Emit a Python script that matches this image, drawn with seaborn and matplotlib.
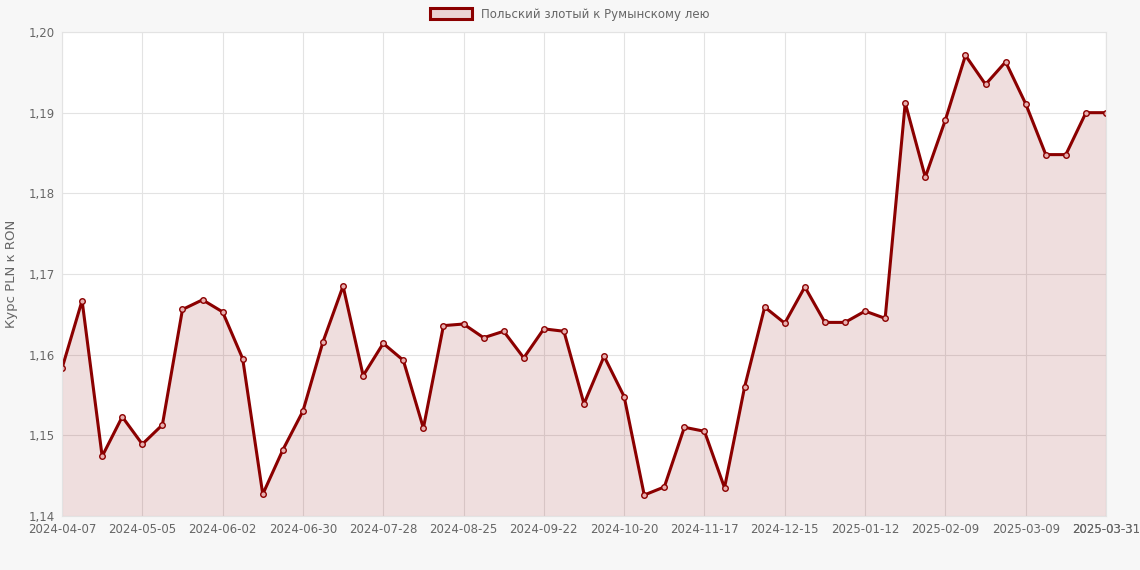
import numpy as np
import pandas as pd
import seaborn as sns
import matplotlib.pyplot as plt
from matplotlib.patches import Patch

# weekly rates, PLN -> RON
dates = pd.date_range('2024-04-07', periods=53, freq='7D').strftime('%Y-%m-%d').tolist()
dates[-1] = '2025-03-31'
rates = [1.1583, 1.1667, 1.1474, 1.1523, 1.1489, 1.1513, 1.1656, 1.1668, 1.1653, 1.1595,
         1.1427, 1.1482, 1.1530, 1.1616, 1.1685, 1.1574, 1.1614, 1.1593, 1.1509, 1.1636,
         1.1638, 1.1621, 1.1629, 1.1596, 1.1632, 1.1629, 1.1539, 1.1598, 1.1548, 1.1426,
         1.1436, 1.1510, 1.1505, 1.1435, 1.1560, 1.1659, 1.1639, 1.1684, 1.1640, 1.1640,
         1.1654, 1.1645, 1.1912, 1.1820, 1.1891, 1.1971, 1.1935, 1.1963, 1.1911, 1.1848,
         1.1848, 1.1900, 1.1900]
label = 'Польский злотый к Румынскому лею'

df = pd.DataFrame({'idx': np.arange(len(dates)), 'rate': rates})

sns.set_style('white')
plt.rcParams['font.family'] = ['DejaVu Sans']
fig = plt.figure(figsize=(11.4, 5.7), dpi=100)
fig.patch.set_facecolor('#f7f7f7')
ax = fig.add_axes([62 / 1140, 54 / 570, 1044 / 1140, 484 / 570])
ax.set_facecolor('white')

color = '#8b0000'
ax.fill_between(df['idx'], 1.14, df['rate'], color=color, alpha=0.13, lw=0)
sns.lineplot(data=df, x='idx', y='rate', ax=ax, color=color, lw=2.2,
             marker='o', markersize=4, markerfacecolor='#e8b0b0',
             markeredgecolor=color, markeredgewidth=1.0)

ax.set_ylim(1.14, 1.20)
ax.set_xlim(0, len(dates) - 1)
ax.set_yticks(np.arange(1.14, 1.2001, 0.01))
ax.set_yticklabels([f'{v:.2f}'.replace('.', ',') for v in np.arange(1.14, 1.2001, 0.01)])
ticks = list(range(0, len(dates), 4)) + [len(dates) - 1]
ax.set_xticks(ticks)
ax.set_xticklabels([dates[i] for i in ticks])
ax.tick_params(labelsize=8.5, colors='#666666', length=0, pad=5)
ax.grid(True, color='#e3e3e3', lw=0.8)
for s in ax.spines.values():
    s.set_color('#e3e3e3')
ax.set_xlabel('')
ax.set_ylabel('Курс PLN к RON', color='#666666', fontsize=9.5, labelpad=8)

fig.legend(handles=[Patch(facecolor='#ebd3d3', edgecolor=color, lw=2.2, label=label)],
           loc='upper center', bbox_to_anchor=(0.5, 1.005), frameon=False,
           fontsize=8.5, labelcolor='#666666', handlelength=3.5, handleheight=1.0)

fig.savefig('out.png', dpi=100, facecolor=fig.get_facecolor())
